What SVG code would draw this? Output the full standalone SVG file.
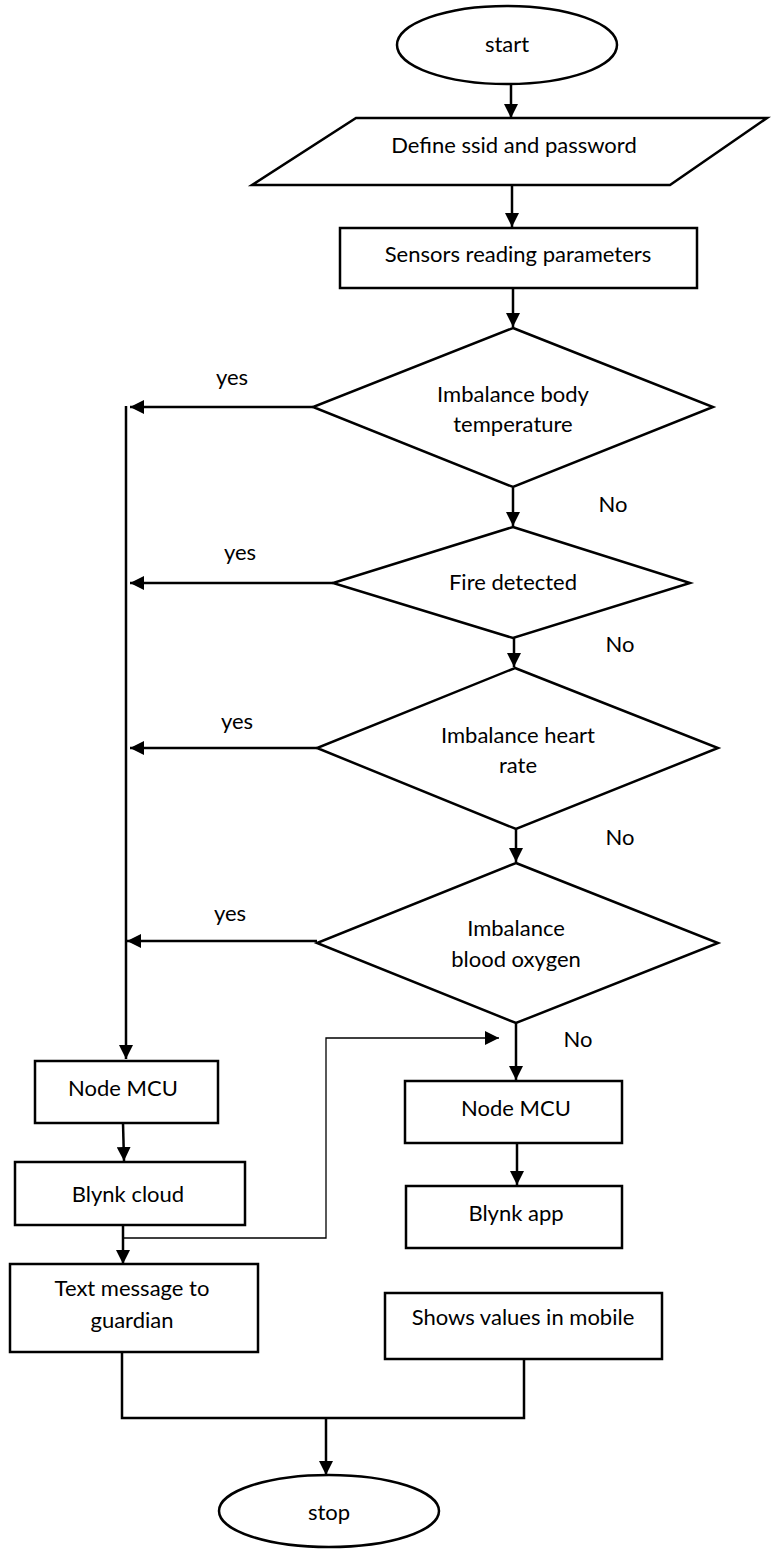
<svg xmlns="http://www.w3.org/2000/svg" width="771" height="1550" viewBox="0 0 771 1550">
<style>
.s{fill:#fff;stroke:#000;stroke-width:2.5}
.c{fill:none;stroke:#000;stroke-width:2.5}
.t{stroke-width:1.3}
text{font-family:Lato,"Liberation Sans",sans-serif;font-size:22px;fill:#000;text-anchor:middle}
</style>
<defs>
<marker id="a" markerUnits="userSpaceOnUse" markerWidth="14" markerHeight="14" refX="14" refY="7" orient="auto">
<path d="M0,0 L14,7 L0,14 z" fill="#000"/>
</marker>
</defs>
<g id="connectors">
<path class="c" d="M511,84 V118" marker-end="url(#a)"/>
<path class="c" d="M512,182 V227" marker-end="url(#a)"/>
<path class="c" d="M513,288 V327" marker-end="url(#a)"/>
<path class="c" d="M513,488 V526" marker-end="url(#a)"/>
<path class="c" d="M514,638 V667" marker-end="url(#a)"/>
<path class="c" d="M516,829 V862" marker-end="url(#a)"/>
<path class="c" d="M516,1023 V1080" marker-end="url(#a)"/>
<path class="c" d="M313,407 H130" marker-end="url(#a)"/>
<path class="c" d="M333,583 H130" marker-end="url(#a)"/>
<path class="c" d="M317,748 H130" marker-end="url(#a)"/>
<path class="c" d="M317,941 H127" marker-end="url(#a)"/>
<path class="c" d="M126,406 V1059" marker-end="url(#a)"/>
<path class="c" d="M123,1123 L124,1161" marker-end="url(#a)"/>
<path class="c" d="M123,1222 V1264" marker-end="url(#a)"/>
<path class="c t" d="M123,1238 H326 V1038 H499" marker-end="url(#a)"/>
<path class="c" d="M517,1141 V1185" marker-end="url(#a)"/>
<path class="c" d="M122,1351 V1418 H524 V1360"/>
<path class="c" d="M326,1417 V1475" marker-end="url(#a)"/>
</g>
<g id="start"><ellipse class="s" cx="507" cy="45" rx="110" ry="39"/><text x="507" y="52">start</text></g>
<g id="define"><polygon class="s" points="356,118 767,118 670,185 252,185"/><text x="514" y="153">Define ssid and password</text></g>
<g id="sensors"><rect class="s" x="340" y="228" width="357" height="60"/><text x="518" y="262">Sensors reading parameters</text></g>
<g id="d1"><polygon class="s" points="513,328 713,407 513,487 313,407"/><text x="513" y="402">Imbalance body</text><text x="513" y="432">temperature</text></g>
<g id="d2"><polygon class="s" points="513,527 690,583 513,638 333,583"/><text x="513" y="590">Fire detected</text></g>
<g id="d3"><polygon class="s" points="515,668 718,748 516,829 317,748"/><text x="518" y="743">Imbalance heart</text><text x="518" y="773">rate</text></g>
<g id="d4"><polygon class="s" points="516,863 718,943 516,1023 317,943"/><text x="516" y="936">Imbalance</text><text x="516" y="967">blood oxygen</text></g>
<g id="labels">
<text x="232" y="385">yes</text>
<text x="240" y="560">yes</text>
<text x="237" y="729">yes</text>
<text x="230" y="921">yes</text>
<text x="613" y="512">No</text>
<text x="620" y="652">No</text>
<text x="620" y="845">No</text>
<text x="578" y="1047">No</text>
</g>
<g id="mcu1"><rect class="s" x="35" y="1061" width="183" height="62"/><text x="123" y="1096">Node MCU</text></g>
<g id="cloud"><rect class="s" x="15" y="1162" width="230" height="63"/><text x="128" y="1202">Blynk cloud</text></g>
<g id="msg"><rect class="s" x="10" y="1264" width="248" height="88"/><text x="132" y="1296">Text message to</text><text x="132" y="1328">guardian</text></g>
<g id="mcu2"><rect class="s" x="405" y="1081" width="217" height="62"/><text x="516" y="1116">Node MCU</text></g>
<g id="app"><rect class="s" x="406" y="1186" width="216" height="62"/><text x="516" y="1221">Blynk app</text></g>
<g id="shows"><rect class="s" x="385" y="1293" width="277" height="66"/><text x="523" y="1325">Shows values in mobile</text></g>
<g id="stop"><ellipse class="s" cx="329" cy="1511" rx="110" ry="36"/><text x="329" y="1520">stop</text></g>
</svg>
